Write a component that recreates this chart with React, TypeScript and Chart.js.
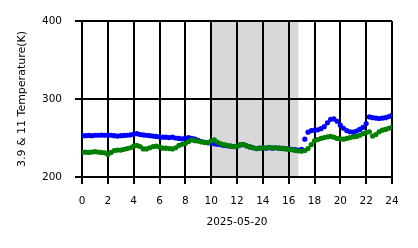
import React, { useEffect, useRef } from "react";
import { Chart, registerables } from "chart.js";

Chart.register(...registerables);

// Time grid: one sample every quarter hour from 0 h to 24 h
const START_HOUR = 0;
const STEP_HOURS = 0.25;

// 3.9 µm channel temperature (K), blue
const BLUE_VALUES = [
  253, 253, 253.3, 253, 253.5, 253.5, 253.7, 253.5, 253.8, 253.5, 253, 252.5,
  253, 253.3, 253.5, 254, 255, 255.5, 254.5, 254, 253.5, 253, 252.5, 252,
  251.5, 251, 251, 250.5, 251, 250, 249.5, 249, 250, 250.5, 249.5, 248.5,
  247, 245.5, 244.5, 244, 243.5, 242.5, 242, 241.5, 240.5, 240, 239.5, 239,
  239.5, 241, 241.5, 240, 238.5, 237.5, 236.5, 237, 237.5, 237, 237.5, 237,
  237.5, 237, 236.5, 236.5, 236, 235.5, 235, 234.5, 235.5, 248.5, 257.5, 259.5,
  260, 260.5, 262, 264.5, 269.5, 274, 274.5, 271.5, 266.5, 262.5, 259.5, 258,
  257.5, 259, 261, 263.5, 268.5, 277, 276, 275.5, 275, 275.5, 276, 277.5,
  279.5,
];

// 11 µm channel temperature (K), green
const GREEN_VALUES = [
  231.5, 232, 231.5, 232, 232.5, 232, 231.5, 231, 229, 231.5, 234, 234.5,
  234.5, 235.5, 236.5, 237.5, 239.5, 240.5, 239, 236, 236, 237.5, 239, 239.5,
  238.5, 237, 237, 236.5, 236, 237.5, 240.5, 242, 243, 245.5, 247.5, 246.5,
  246, 245, 244.5, 244, 246.5, 247.5, 244.5, 242.5, 241.5, 240.5, 239.5, 239,
  239.5, 241.5, 242, 240, 238.5, 237.5, 236.5, 237, 237.5, 237.5, 238, 237.5,
  237.5, 237, 237, 236, 235.5, 235, 234, 233.5, 233, 234, 236.5, 241.5,
  246.5, 248, 249.5, 250.5, 251.5, 252, 251, 249.5, 249, 248.5, 249.5, 250.5,
  251.5, 252, 253.5, 255.5, 257, 258, 252.5, 254.5, 258, 260, 261, 262.5,
  264,
];

// Shaded interval (hours)
const SHADE_START = 9.9;
const SHADE_END = 16.75;

// Axis settings
const X_MIN = 0;
const X_MAX = 24;
const X_STEP = 2;
const Y_MIN = 200;
const Y_MAX = 400;
const Y_STEP = 100;
const X_TITLE = "2025-05-20";
const Y_TITLE = "3.9 & 11 Temperature(K)";

const toPoints = (vals: number[]) =>
  vals.map((v, i) => ({ x: START_HOUR + i * STEP_HOURS, y: v }));

const shadePlugin = {
  id: "shade",
  beforeDraw(chart: any) {
    const { ctx, chartArea, scales } = chart;
    const x0 = scales.x.getPixelForValue(SHADE_START);
    const x1 = scales.x.getPixelForValue(SHADE_END);
    ctx.save();
    ctx.fillStyle = "rgb(216,216,216)";
    ctx.fillRect(x0, chartArea.top, x1 - x0, chartArea.bottom - chartArea.top);
    ctx.restore();
  },
};

export default function App() {
  const ref = useRef<HTMLCanvasElement>(null);

  useEffect(() => {
    document.body.style.margin = "0";
    const font = { family: "DejaVu Sans", size: 10.5 };
    const titleFont = { family: "DejaVu Sans", size: 11 };
    const chart = new Chart(ref.current!, {
      type: "scatter",
      data: {
        datasets: [
          {
            label: "11",
            data: toPoints(GREEN_VALUES),
            backgroundColor: "#008000",
            borderColor: "#008000",
            borderWidth: 0,
            pointRadius: 2.6,
            showLine: false,
          },
          {
            label: "3.9",
            data: toPoints(BLUE_VALUES),
            backgroundColor: "#0000ff",
            borderColor: "#0000ff",
            borderWidth: 0,
            pointRadius: 2.6,
            showLine: false,
          },
        ],
      },
      options: {
        responsive: false,
        animation: false,
        devicePixelRatio: 1,
        layout: { padding: { top: 21, right: 26, left: 0, bottom: 0 } },
        plugins: {
          legend: { display: false },
          tooltip: { enabled: false },
        },
        scales: {
          x: {
            type: "linear",
            min: X_MIN,
            max: X_MAX,
            afterFit(scale: any) {
              scale.height = 71;
            },
            ticks: {
              stepSize: X_STEP,
              color: "#000",
              font,
              padding: 11,
              maxRotation: 0,
            },
            grid: { color: "#000", lineWidth: 2, tickLength: 7 },
            border: { color: "#000", width: 2 },
            title: {
              display: true,
              text: X_TITLE,
              color: "#000",
              font,
              padding: { top: 0, bottom: 19 },
            },
          },
          y: {
            type: "linear",
            min: Y_MIN,
            max: Y_MAX,
            afterFit(scale: any) {
              scale.width = 82;
            },
            ticks: {
              stepSize: Y_STEP,
              color: "#000",
              font,
              padding: 13,
            },
            grid: { color: "#000", lineWidth: 2, tickLength: 7 },
            border: { color: "#000", width: 2 },
            title: {
              display: true,
              text: Y_TITLE,
              color: "#000",
              font: titleFont,
              padding: { top: 16, bottom: 0 },
            },
          },
        },
      },
      plugins: [shadePlugin],
    });
    return () => chart.destroy();
  }, []);

  return (
    <div style={{ position: "absolute", left: 0, top: 0, width: 418, height: 248 }}>
      <canvas ref={ref} width={418} height={248} />
    </div>
  );
}
